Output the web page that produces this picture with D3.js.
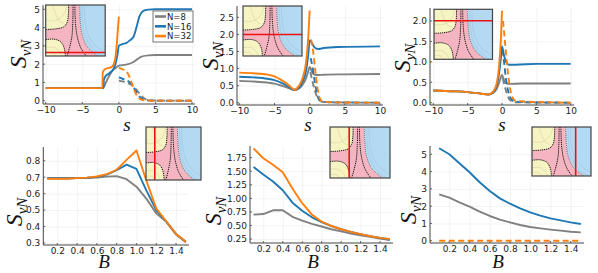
<!DOCTYPE html>
<html><head><meta charset="utf-8">
<script src="https://cdn.jsdelivr.net/npm/d3@7"></script>
<style>body{margin:0;background:#fff} svg{display:block}</style>
</head><body><svg id="c" width="598" height="273"></svg>
<script>
// ---------- DATA ----------
const seriesNames = ["N=8", "N=16", "N=32"];
const sTicks = [-10, -5, 0, 5, 10];
const bTicks = [0.2, 0.4, 0.6, 0.8, 1.0, 1.2, 1.4];
const bValues = [0.1,0.2,0.3,0.4,0.5,0.6,0.7,0.8,0.9,1.0,1.1,1.2,1.3,1.4,1.5];

// Panel 1 (s sweep)
const p1Solid8  = [[-10,0.69],[-2.3,0.69],[-2.1,0.72],[-2,0.8],[-1.5,1.22],[-1,1.58],[-0.5,1.77],[0,1.92],[1,1.97],[2,2.12],[2.5,2.26],[3,2.4],[4,2.48],[5,2.5],[10,2.5]];
const p1Solid16 = [[-10,0.69],[-2.1,0.69],[-2.05,1.15],[-1.8,1.35],[-1.5,1.45],[-1,1.6],[-0.5,1.95],[-0.2,2.5],[0,3.0],[0.5,3.1],[1,3.15],[1.5,3.3],[2,3.5],[2.4,4.0],[2.8,4.6],[3.3,4.9],[4,4.98],[5,5.0],[10,5.0]];
const p1Solid32 = [[-10,0.69],[-2.25,0.69],[-2.2,1.55],[-1.9,1.72],[-1.5,1.78],[-1,1.84],[-0.7,2.0],[-0.5,2.3],[-0.3,3.0],[-0.15,3.8],[0,4.6]];
const p1Dash8   = [[0,1.1],[0.5,1.06],[1,1.0],[1.5,0.92],[2,0.78],[2.5,0.55],[3,0.3],[3.5,0.12],[4,0.04],[5,0.01],[10,0]];
const p1Dash16  = [[0,1.28],[0.5,1.2],[1,1.13],[1.5,1.0],[2,0.75],[2.5,0.4],[3,0.15],[3.5,0.05],[4,0.02],[5,0],[10,0]];
const p1Dash32  = [[0,1.8],[0.5,1.72],[1,1.62],[1.5,1.25],[2,0.7],[2.5,0.25],[3,0.07],[3.5,0.02],[5,0],[10,0]];

// Panel 2
const p2Solid8  = [[-10,0.64],[-8,0.62],[-6,0.59],[-5,0.56],[-4,0.5],[-3,0.43],[-2.2,0.37],[-1.5,0.42],[-1,0.53],[-0.5,0.72],[-0.2,0.92],[0,1.05],[0.25,0.95],[0.5,0.85],[1,0.81],[2,0.82],[5,0.83],[10,0.84]];
const p2Solid16 = [[-10,0.76],[-8,0.74],[-6,0.7],[-5,0.66],[-4,0.58],[-3,0.47],[-2.2,0.38],[-1.5,0.45],[-1,0.62],[-0.5,0.95],[-0.2,1.4],[0,1.82],[0.3,1.75],[0.7,1.62],[1.2,1.57],[2,1.6],[4,1.63],[10,1.65]];
const p2Solid32 = [[-10,0.88],[-8,0.86],[-6,0.82],[-5,0.77],[-4,0.66],[-3,0.52],[-2.2,0.38],[-1.5,0.5],[-1,0.72],[-0.5,1.2],[-0.2,1.9],[0,2.7]];
const p2Dash8   = [[0.1,0.9],[0.4,0.62],[0.7,0.38],[1,0.2],[1.5,0.06],[2,0.02],[10,0]];
const p2Dash16  = [[0.15,1.3],[0.4,1.05],[0.7,0.65],[1,0.3],[1.3,0.1],[1.8,0.03],[3,0.01],[10,0]];
const p2Dash32  = [[0.2,1.85],[0.5,1.5],[0.8,0.95],[1.1,0.45],[1.4,0.15],[1.8,0.04],[3,0.01],[10,0]];

// Panel 3
const p3Solid8  = [[-10,0.3],[-7,0.28],[-5,0.26],[-3,0.22],[-2,0.2],[-1.3,0.24],[-0.8,0.33],[-0.4,0.5],[-0.1,0.65],[0,0.68],[0.3,0.55],[0.6,0.48],[1,0.46],[3,0.47],[10,0.47]];
const p3Solid16 = [[-10,0.3],[-7,0.28],[-5,0.26],[-3,0.22],[-2,0.2],[-1.3,0.26],[-0.8,0.4],[-0.4,0.75],[-0.1,1.2],[0,1.38],[0.3,1.15],[0.6,1.0],[1,0.93],[2,0.93],[5,0.95],[10,0.95]];
const p3Solid32 = [[-10,0.3],[-7,0.28],[-5,0.26],[-3,0.22],[-2,0.2],[-1.3,0.27],[-0.8,0.45],[-0.4,0.95],[-0.15,1.6],[0,2.25]];
const p3Dash8   = [[0.1,0.6],[0.4,0.4],[0.8,0.18],[1.2,0.06],[2,0.01],[10,0]];
const p3Dash16  = [[0.1,1.3],[0.3,1.0],[0.6,0.55],[1,0.22],[1.5,0.06],[2,0.02],[10,0]];
const p3Dash32  = [[0.15,2.0],[0.4,1.55],[0.7,1.0],[1,0.55],[1.4,0.18],[2,0.04],[10,0]];

// Panel 4 (B sweep)
const p4Gray   = [0.693,0.693,0.693,0.694,0.695,0.698,0.703,0.706,0.688,0.642,0.57,0.48,0.43,0.352,0.305];
const p4Blue   = [0.693,0.693,0.693,0.694,0.696,0.702,0.715,0.742,0.776,0.75,0.62,0.5,0.432,0.355,0.308];
const p4Orange = [0.69,0.69,0.69,0.694,0.697,0.704,0.718,0.745,0.805,0.862,0.68,0.51,0.432,0.355,0.307];

// Panel 5
const p5Gray   = [0.70,0.71,0.78,0.78,0.66,0.59,0.53,0.48,0.43,0.39,0.35,0.32,0.29,0.26,0.23];
const p5Blue   = [1.58,1.44,1.31,1.15,0.92,0.77,0.65,0.56,0.49,0.43,0.38,0.34,0.30,0.27,0.24];
const p5Orange = [1.92,1.74,1.62,1.48,1.18,0.91,0.70,0.57,0.49,0.43,0.38,0.34,0.30,0.27,0.25];

// Panel 6
const p6Gray   = [2.68,2.49,2.22,1.97,1.68,1.43,1.22,1.06,0.91,0.79,0.71,0.64,0.58,0.52,0.48];
const p6Blue   = [5.35,5.0,4.48,3.96,3.38,2.88,2.45,2.14,1.87,1.64,1.45,1.29,1.18,1.06,0.97];
const p6Orange = [0,0,0,0,0,0,0,0,0,0,0,0,0,0,0];

// Inset phase-diagram outlines (normalised units)
const armTop    = [[0.385,0],[0.38,0.2],[0.36,0.34],[0.3,0.43],[0.15,0.47],[0,0.48]];
const armBottom = [[0,0.68],[0.14,0.67],[0.25,0.72],[0.31,0.84],[0.33,1]];
const blueEdge  = [[0.57,0],[0.58,0.3],[0.61,0.58],[0.7,0.82],[0.88,1]];
const branchL   = [[0.46,0],[0.455,0.35],[0.44,0.62],[0.4,0.84],[0.36,1]];
const branchR   = [[0.49,0],[0.5,0.35],[0.53,0.62],[0.59,0.84],[0.68,1]];

// ---------- STYLE ----------
const colors = ["#808080", "#1f77b4", "#ff7f0e"];
const svg = d3.select("#c");
const tickFont = "DejaVu Sans, sans-serif";
const mathFont = "Liberation Serif, DejaVu Serif, serif";
let clipId = 0;

function panel(cfg) {
  const x = d3.scaleLinear().domain(cfg.xd).range(cfg.xr);
  const y = d3.scaleLinear().domain(cfg.yd).range(cfg.yr);
  const g = svg.append("g");
  const {L, R, T, B} = cfg.frame;
  const ax = g.append("g").attr("transform", `translate(0,${B})`)
    .call(d3.axisBottom(x).tickValues(cfg.xt).tickFormat(cfg.xf).tickSizeInner(-(B - T)).tickSizeOuter(0).tickPadding(3));
  const ay = g.append("g").attr("transform", `translate(${L},0)`)
    .call(d3.axisLeft(y).tickValues(cfg.yt).tickFormat(cfg.yf).tickSizeInner(-(R - L)).tickSizeOuter(0).tickPadding(3));
  [ax, ay].forEach(a => {
    a.select(".domain").remove();
    a.selectAll(".tick line").attr("stroke", "#ebebeb").attr("stroke-width", 0.6);
    a.selectAll("text").attr("font-family", tickFont).attr("font-size", 9).attr("fill", "#222");
  });
  g.append("line").attr("x1", L).attr("x2", L).attr("y1", T).attr("y2", B).attr("stroke", "#444").attr("stroke-width", 1);
  g.append("line").attr("x1", L).attr("x2", R).attr("y1", B).attr("y2", B).attr("stroke", "#444").attr("stroke-width", 1);
  cfg.xt.forEach(t => g.append("line").attr("x1", x(t)).attr("x2", x(t)).attr("y1", B).attr("y2", B - 2).attr("stroke", "#444").attr("stroke-width", 0.8));
  cfg.yt.forEach(t => g.append("line").attr("x1", L).attr("x2", L + 2).attr("y1", y(t)).attr("y2", y(t)).attr("stroke", "#444").attr("stroke-width", 0.8));

  const line = d3.line().x(d => x(d[0])).y(d => y(d[1])).curve(cfg.curve || d3.curveLinear);
  cfg.series.forEach(s => {
    g.append("path").attr("d", line(s.pts)).attr("fill", "none")
      .attr("stroke", colors[s.c]).attr("stroke-width", 1.9)
      .attr("stroke-dasharray", s.dash ? "6,3.5" : null)
      .attr("stroke-linejoin", "round").attr("stroke-linecap", "butt");
  });

  const yl = g.append("text").attr("transform", `translate(${cfg.ylab[0]},${cfg.ylab[1]}) rotate(-90)`)
    .attr("text-anchor", "middle").attr("font-family", mathFont).attr("font-style", "italic").attr("fill", "#111");
  yl.append("tspan").attr("font-size", 24).text("S");
  yl.append("tspan").attr("font-size", 15).attr("dy", 5).text("vN");
  g.append("text").attr("x", cfg.xlab[0]).attr("y", cfg.xlab[1]).attr("text-anchor", "middle")
    .attr("font-family", mathFont).attr("font-style", "italic").attr("font-size", cfg.xname === "s" ? 19 : 19)
    .attr("fill", "#111").text(cfg.xname);
  return {g, x, y};
}

function inset(box, red) {
  const id = "clip" + (clipId++);
  svg.append("clipPath").attr("id", id).append("rect").attr("x", box.x).attr("y", box.y).attr("width", box.w).attr("height", box.h);
  const g = svg.append("g");
  const c = g.append("g").attr("clip-path", `url(#${id})`);
  const u = d3.scaleLinear().domain([0, 1]).range([box.x, box.x + box.w]);
  const v = d3.scaleLinear().domain([0, 1]).range([box.y, box.y + box.h]);
  const ln = d3.line().x(d => u(d[0])).y(d => v(d[1])).curve(d3.curveCatmullRom);
  const seg = pts => ln(pts).replace(/^M/, "L");
  const P = (a, b) => `${u(a)},${v(b)}`;
  c.append("rect").attr("x", box.x).attr("y", box.y).attr("width", box.w).attr("height", box.h).attr("fill", "#f7f4c4");
  const pink = `M${P(0.385,0)}L${P(0.57,0)}` + seg(blueEdge) + `L${P(0.33,1)}` + seg(armBottom.slice().reverse()) +
    `L${P(0,0.48)}` + seg(armTop.slice().reverse()) + "Z";
  c.append("path").attr("d", pink).attr("fill", "#f4b5c1");
  const blue = `M${P(0.57,0)}L${P(1,0)}L${P(1,1)}L${P(0.88,1)}` + seg(blueEdge.slice().reverse()) + "Z";
  c.append("path").attr("d", blue).attr("fill", "#b3daf2");
  const faint = [
    [[0.12,0],[0.16,0.15],[0.22,0.3],[0.3,0.36]],
    [[0,0.3],[0.12,0.31],[0.24,0.26],[0.33,0.12],[0.35,0]],
    [[0,0.83],[0.14,0.83],[0.22,0.9],[0.26,1]],
    [[0,0.93],[0.1,0.93],[0.17,1]]
  ];
  faint.forEach(p => c.append("path").attr("d", ln(p)).attr("fill", "none").attr("stroke", "#cfca9e").attr("stroke-width", 0.5));
  const faintBlue = [
    [[0.61,0],[0.62,0.3],[0.65,0.56],[0.75,0.8],[0.94,1]],
    [[0.65,0],[0.66,0.3],[0.7,0.54],[0.81,0.77],[1,0.93]]
  ];
  faintBlue.forEach(p => c.append("path").attr("d", ln(p)).attr("fill", "none").attr("stroke", "#8fb6cf").attr("stroke-width", 0.5).attr("opacity", 0.7));
  c.append("path").attr("d", ln(blueEdge)).attr("fill", "none").attr("stroke", "#556").attr("stroke-width", 0.8).attr("stroke-dasharray", "1,1");
  [armTop, armBottom, branchL, branchR].forEach(p =>
    c.append("path").attr("d", ln(p)).attr("fill", "none").attr("stroke", "#1a1a1a").attr("stroke-width", 1).attr("stroke-dasharray", "1.3,0.8"));
  if (red.h !== undefined)
    c.append("line").attr("x1", u(0)).attr("x2", u(1)).attr("y1", v(red.h)).attr("y2", v(red.h)).attr("stroke", "#ee1111").attr("stroke-width", 1.6);
  else
    c.append("line").attr("x1", u(red.v)).attr("x2", u(red.v)).attr("y1", v(0)).attr("y2", v(1)).attr("stroke", "#ee1111").attr("stroke-width", 1.6);
  g.append("rect").attr("x", box.x).attr("y", box.y).attr("width", box.w).attr("height", box.h)
    .attr("fill", "none").attr("stroke", "#444").attr("stroke-width", 1.2);
}

const smooth = d3.curveMonotoneX;
const bPts = arr => arr.map((v, i) => [bValues[i], v]);

panel({
  xd: [-10, 10], xr: [45.7, 192], yd: [0, 5], yr: [100.7, 9.3],
  frame: {L: 43, R: 195, T: 5, B: 104},
  xt: sTicks, yt: [0,1,2,3,4,5], xf: d3.format("d"), yf: d3.format("d"),
  curve: smooth, ylab: [26, 54], xlab: [127, 131], xname: "s",
  series: [
    {pts: p1Solid8, c: 0}, {pts: p1Solid16, c: 1}, {pts: p1Solid32, c: 2},
    {pts: p1Dash8, c: 0, dash: 1}, {pts: p1Dash16, c: 1, dash: 1}, {pts: p1Dash32, c: 2, dash: 1}
  ]
});
{
  const lg = svg.append("g");
  lg.append("rect").attr("x", 153).attr("y", 11).attr("width", 40).attr("height", 31).attr("fill", "#fff").attr("stroke", "#555").attr("stroke-width", 0.8);
  seriesNames.forEach((n, i) => {
    const yy = 16.5 + i * 9.8;
    lg.append("line").attr("x1", 155).attr("x2", 166).attr("y1", yy).attr("y2", yy).attr("stroke", colors[i]).attr("stroke-width", 2.6);
    lg.append("text").attr("x", 167).attr("y", yy + 3.2).attr("font-family", tickFont).attr("font-size", 8.5).attr("fill", "#222").text(n);
  });
}

panel({
  xd: [-10, 10], xr: [239.3, 380], yd: [0, 2.5], yr: [102.7, 17.3],
  frame: {L: 237, R: 383, T: 6, B: 105},
  xt: sTicks, yt: [0,0.5,1,1.5,2,2.5], xf: d3.format("d"), yf: d3.format(".1f"),
  curve: smooth, ylab: [218, 56], xlab: [308, 131], xname: "s",
  series: [
    {pts: p2Solid8, c: 0}, {pts: p2Solid16, c: 1}, {pts: p2Solid32, c: 2},
    {pts: p2Dash8, c: 0, dash: 1}, {pts: p2Dash16, c: 1, dash: 1}, {pts: p2Dash32, c: 2, dash: 1}
  ]
});

panel({
  xd: [-10, 10], xr: [433.3, 570.7], yd: [0, 2], yr: [102.7, 21],
  frame: {L: 430, R: 574, T: 8, B: 105},
  xt: sTicks, yt: [0,0.5,1,1.5,2], xf: d3.format("d"), yf: d3.format(".1f"),
  curve: smooth, ylab: [410, 58], xlab: [502, 131], xname: "s",
  series: [
    {pts: p3Solid8, c: 0}, {pts: p3Solid16, c: 1}, {pts: p3Solid32, c: 2},
    {pts: p3Dash8, c: 0, dash: 1}, {pts: p3Dash16, c: 1, dash: 1}, {pts: p3Dash32, c: 2, dash: 1}
  ]
});

panel({
  xd: [0.2, 1.4], xr: [57.3, 176], yd: [0.3, 0.8], yr: [243, 160.7],
  frame: {L: 43.3, R: 189, T: 147, B: 245},
  xt: bTicks, yt: [0.3,0.4,0.5,0.6,0.7,0.8], xf: d3.format(".1f"), yf: d3.format(".1f"),
  ylab: [22, 212], xlab: [104, 268], xname: "B",
  series: [{pts: bPts(p4Gray), c: 0}, {pts: bPts(p4Blue), c: 1}, {pts: bPts(p4Orange), c: 2}]
});

panel({
  xd: [0.2, 1.4], xr: [263.3, 380], yd: [0.25, 1.75], yr: [239, 157.7],
  frame: {L: 250, R: 393, T: 146, B: 243},
  xt: bTicks, yt: [0.25,0.5,0.75,1,1.25,1.5,1.75], xf: d3.format(".1f"), yf: d3.format(".2f"),
  ylab: [221, 211], xlab: [313, 268], xname: "B",
  series: [{pts: bPts(p5Gray), c: 0}, {pts: bPts(p5Blue), c: 1}, {pts: bPts(p5Orange), c: 2}]
});

panel({
  xd: [0.2, 1.4], xr: [449.3, 570.7], yd: [0, 5], yr: [240.7, 154.3],
  frame: {L: 430, R: 584, T: 146, B: 243},
  xt: bTicks, yt: [0,1,2,3,4,5], xf: d3.format(".1f"), yf: d3.format("d"),
  ylab: [416, 210], xlab: [498, 268], xname: "B",
  series: [{pts: bPts(p6Gray), c: 0}, {pts: bPts(p6Blue), c: 1}, {pts: bPts(p6Orange), c: 2, dash: 1}]
});

inset({x: 45.7, y: 5, w: 59.5, h: 51}, {h: 0.93});
inset({x: 243, y: 6, w: 59, h: 50}, {h: 0.57});
inset({x: 434, y: 9.3, w: 58.5, h: 50}, {h: 0.23});
inset({x: 146, y: 127, w: 55, h: 53}, {v: 0.16});
inset({x: 330, y: 127, w: 60, h: 51}, {v: 0.32});
inset({x: 532, y: 127, w: 59, h: 49}, {v: 0.74});
</script></body></html>
